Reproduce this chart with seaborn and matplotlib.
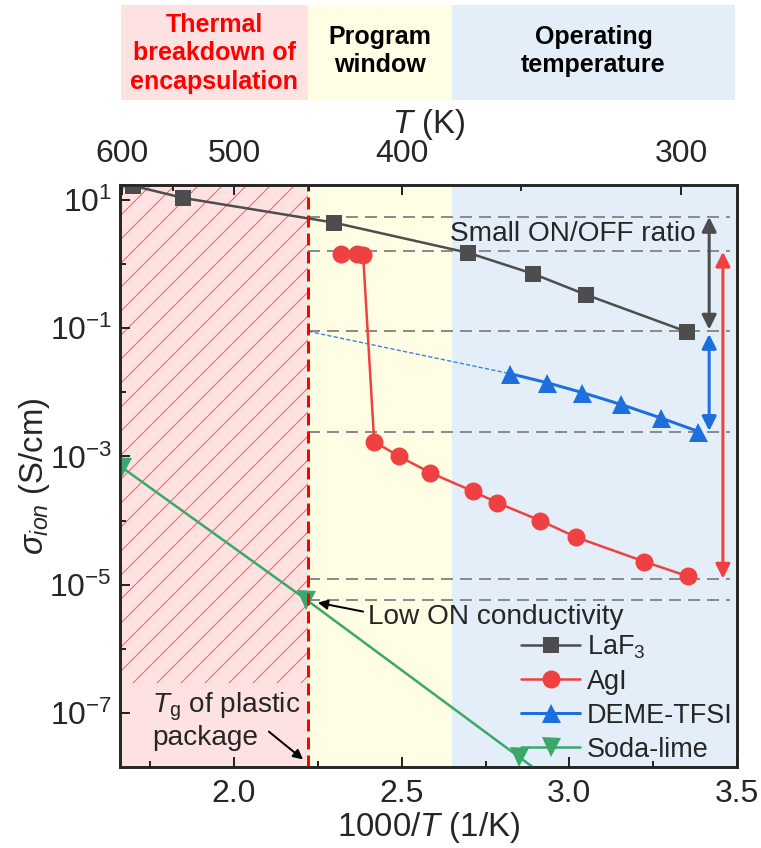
import numpy as np
import pandas as pd
import matplotlib
matplotlib.use('Agg')
import matplotlib.pyplot as plt
import seaborn as sns
from matplotlib.ticker import FixedLocator, LogFormatterSciNotation, NullFormatter, FixedFormatter

# ---------------- data ----------------
laf3_x = [1.700, 1.848, 2.299, 2.699, 2.893, 3.051, 3.350]
laf3_y = [16.5, 10.7, 4.4, 1.49, 0.70, 0.33, 0.088]

agi_x = [2.320, 2.367, 2.385, 2.418, 2.493, 2.585, 2.714, 2.785, 2.914, 3.021, 3.224, 3.355]
agi_y = [1.45, 1.42, 1.40, 1.7e-3, 1.0e-3, 5.6e-4, 2.85e-4, 1.9e-4, 1.0e-4, 5.5e-5, 2.3e-5, 1.35e-5]

deme_x = [2.824, 2.934, 3.039, 3.153, 3.272, 3.385]
deme_y = [0.0195, 0.0141, 0.0099, 0.0065, 0.0040, 0.00245]

soda_x = [1.665, 2.215, 2.851, 3.000]
soda_y = [6.8e-4, 5.9e-6, 2.06e-8, 5.5e-9]

deme_extrap_x = [2.222, 2.824]
deme_extrap_y = [0.089, 0.0195]

ref_levels = [5.4, 1.6, 0.089, 0.00245, 1.25e-5, 5.9e-6]

tg_x = 2.222            # 1000/450 K
program_edge = 2.65
x_range = (1.66, 3.5)
y_range = (1.45e-8, 17)

top_T_major = [600, 500, 400, 300]
top_T_minor = [550, 450, 350]

zone_labels = ['Thermal\nbreakdown of\nencapsulation', 'Program\nwindow', 'Operating\ntemperature']

# ---------------- style ----------------
sns.set_style('ticks')
plt.rcParams['font.family'] = ['Liberation Sans', 'DejaVu Sans']
plt.rcParams['mathtext.fontset'] = 'custom'
plt.rcParams['mathtext.rm'] = 'Liberation Sans'
plt.rcParams['mathtext.it'] = 'Liberation Sans:italic'
plt.rcParams['mathtext.bf'] = 'Liberation Sans:bold'
plt.rcParams['axes.unicode_minus'] = False
plt.rcParams['hatch.linewidth'] = 1.0

c_laf3 = '#4D4D4D'
c_agi = '#EF4141'
c_deme = '#1C6FDD'
c_soda = '#3AA86B'
c_pink = '#FEE1E1'
c_yellow = '#FFFDE4'
c_blue = '#E3EEF8'

DPI = 72
fig = plt.figure(figsize=(761 / DPI, 848 / DPI), dpi=DPI)
L, R, T, B = 120, 737, 185, 767
ax = fig.add_axes([L / 761, 1 - B / 848, (R - L) / 761, (B - T) / 848])

ax.set_xscale('linear')
ax.set_yscale('log')
ax.set_xlim(*x_range)
ax.set_ylim(*y_range)

# background zones
ax.axvspan(x_range[0], tg_x, color=c_pink, lw=0, zorder=0)
ax.axvspan(tg_x, program_edge, color=c_yellow, lw=0, zorder=0)
ax.axvspan(program_edge, x_range[1], color=c_blue, lw=0, zorder=0)
ax.fill_between([x_range[0], tg_x], 3.0e-7, y_range[1], facecolor='none',
                edgecolor='#FF5A5A', hatch='/', linewidth=0, zorder=0.5)

# reference dashed lines
ax.hlines(ref_levels, tg_x, 3.48, colors='#8C8C8C', lw=2,
          linestyles=(0, (6, 3.5)), zorder=1)

# extrapolation of DEME-TFSI
ax.plot(deme_extrap_x, deme_extrap_y, color='#3D86DA', lw=1.4,
        ls=(0, (3, 1.6)), zorder=2)

# data series
sns.lineplot(x=laf3_x, y=laf3_y, ax=ax, color=c_laf3, lw=2.5, marker='s',
             markersize=16, markeredgewidth=0, label='LaF$_3$', estimator=None, zorder=4)
sns.lineplot(x=agi_x, y=agi_y, ax=ax, color=c_agi, lw=2.5, marker='o',
             markersize=18, markeredgewidth=0, label='AgI', estimator=None, zorder=4)
sns.lineplot(x=deme_x, y=deme_y, ax=ax, color=c_deme, lw=3, marker='^',
             markersize=19, markeredgewidth=0, label='DEME-TFSI', estimator=None, zorder=4)
sns.lineplot(x=soda_x, y=soda_y, ax=ax, color=c_soda, lw=2.5, marker='v',
             markersize=19, markeredgewidth=0, label='Soda-lime', estimator=None, zorder=4)

# Tg vertical line
ax.axvline(tg_x, color='#FF0000', lw=3, ls=(0, (4, 2)), zorder=5)

# ON/OFF arrows
def dbl_arrow(x, y0, y1, color):
    ax.annotate('', xy=(x, y1), xytext=(x, y0),
                arrowprops=dict(arrowstyle='<|-|>', color=color, lw=3,
                                mutation_scale=30, shrinkA=0, shrinkB=0), zorder=6)

dbl_arrow(3.417, 5.4, 0.095, c_laf3)
dbl_arrow(3.417, 0.081, 0.0025, c_deme)
dbl_arrow(3.458, 1.55, 1.25e-5, c_agi)

ax.text(2.645, 2.24, 'Small ON/OFF ratio', fontsize=28, ha='left', va='baseline', zorder=7)
ax.text(2.40, 2.49e-6, 'Low ON conductivity', fontsize=28, ha='left', va='baseline', zorder=7)
ax.annotate('', xy=(2.250, 5.28e-6), xytext=(2.385, 3.83e-6),
            arrowprops=dict(arrowstyle='-|>', color='black', lw=2,
                            mutation_scale=20, shrinkA=0, shrinkB=0), zorder=7)
ax.text(1.755, 1.02e-7, r'$T_\mathrm{g}$ of plastic', fontsize=28, ha='left', va='baseline', zorder=7)
ax.text(1.755, 3.2e-8, 'package', fontsize=28, ha='left', va='baseline', zorder=7)
ax.annotate('', xy=(2.206, 1.9e-8), xytext=(2.104, 5.16e-8),
            arrowprops=dict(arrowstyle='-|>', color='black', lw=2,
                            mutation_scale=20, shrinkA=0, shrinkB=0), zorder=7)

# axes ticks
ax.xaxis.set_major_locator(FixedLocator([2.0, 2.5, 3.0, 3.5]))
ax.xaxis.set_minor_locator(FixedLocator([1.75, 2.25, 2.75, 3.25]))
ax.xaxis.set_major_formatter(FixedFormatter(['2.0', '2.5', '3.0', '3.5']))
ax.yaxis.set_major_locator(FixedLocator([1e1, 1e-1, 1e-3, 1e-5, 1e-7]))
ax.yaxis.set_minor_locator(FixedLocator([1e0, 1e-2, 1e-4, 1e-6]))
ax.yaxis.set_major_formatter(LogFormatterSciNotation())
ax.yaxis.set_minor_formatter(NullFormatter())
ax.tick_params(which='major', direction='in', length=10, width=2, labelsize=32,
               top=False, right=False)
ax.tick_params(axis='x', which='major', pad=12)
ax.tick_params(axis='y', which='major', pad=8)
ax.tick_params(which='minor', direction='in', length=6, width=2, top=False, right=False)
for s in ax.spines.values():
    s.set_linewidth(2.5)
    s.set_color('black')
ax.set_xlabel(r'1000/$T$ (1/K)', fontsize=33, labelpad=1)
ax.set_ylabel(r'$\sigma_{ion}$ (S/cm)', fontsize=33, labelpad=-3)

leg = ax.legend(loc='lower right', frameon=False, fontsize=27, handlelength=2.2,
                handletextpad=0.25, labelspacing=0.3, borderaxespad=0.0, borderpad=0.15)

# top temperature axis
axt = ax.twiny()
axt.set_xlim(*x_range)
axt.xaxis.set_major_locator(FixedLocator([1000 / t for t in top_T_major]))
axt.xaxis.set_major_formatter(FixedFormatter([str(t) for t in top_T_major]))
axt.xaxis.set_minor_locator(FixedLocator([1000 / t for t in top_T_minor]))
axt.tick_params(which='major', direction='in', length=10, width=2, labelsize=32, pad=16)
axt.tick_params(which='minor', direction='in', length=6, width=2)
for s in axt.spines.values():
    s.set_linewidth(2.5)
axt.set_xlabel(r'$T$ (K)', fontsize=33, labelpad=6)
axt.grid(False)

# top band with zone labels
band = fig.add_axes([L / 761, 1 - 100 / 848, (R - L) / 761, 95 / 848])
band.set_xlim(*x_range)
band.set_ylim(0, 1)
band.axis('off')
band.axvspan(x_range[0] + 0.003, tg_x, color=c_pink, lw=0)
band.axvspan(tg_x, program_edge, color=c_yellow, lw=0)
band.axvspan(program_edge, 3.494, color=c_blue, lw=0)
band.text((x_range[0] + tg_x) / 2, 0.49, zone_labels[0], ha='center', va='center',
          color='#FF0000', fontweight='bold', fontsize=25, linespacing=1.22)
band.text((tg_x + program_edge) / 2, 0.52, zone_labels[1], ha='center', va='center',
          color='black', fontweight='bold', fontsize=25, linespacing=1.22)
band.text((program_edge + 3.494) / 2, 0.52, zone_labels[2], ha='center', va='center',
          color='black', fontweight='bold', fontsize=25, linespacing=1.22)

fig.savefig('out.png', dpi=DPI)
